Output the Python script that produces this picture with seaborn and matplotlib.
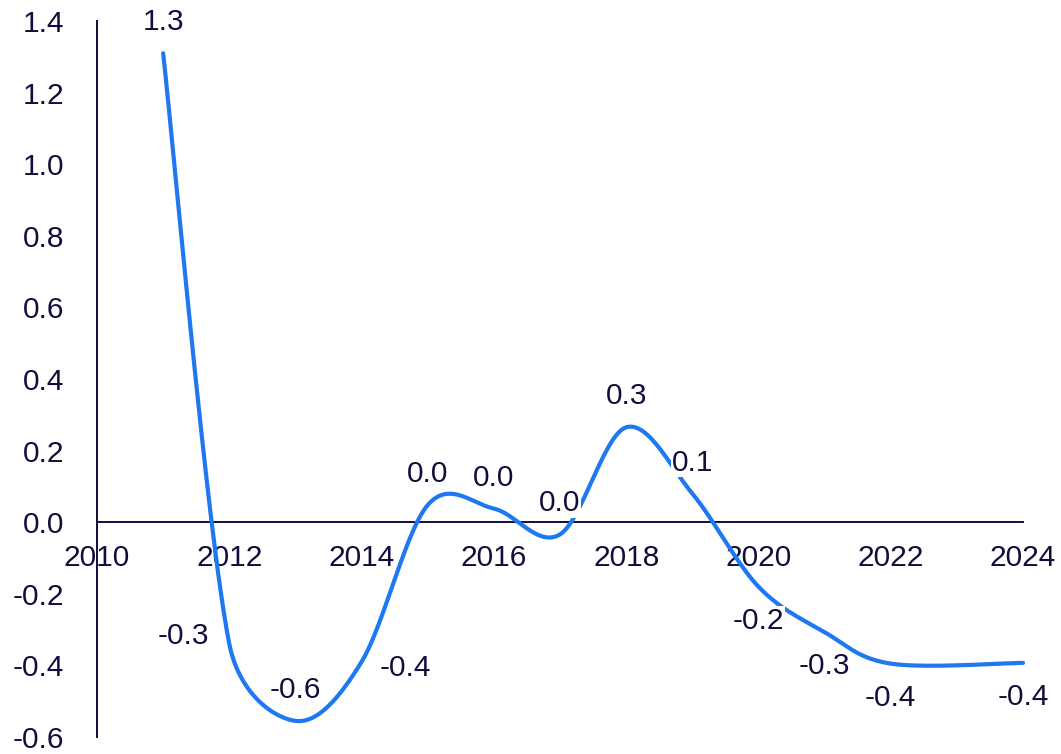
import numpy as np
import pandas as pd
import matplotlib
matplotlib.use("Agg")
import matplotlib.pyplot as plt
import seaborn as sns

# data
years = [2011, 2012, 2013, 2014, 2015, 2016, 2017, 2018, 2019, 2020, 2021, 2022, 2024]
values = [1.31, -0.34, -0.555, -0.39, 0.048, 0.038, -0.034, 0.265, 0.08, -0.18, -0.307, -0.395, -0.393]
label_side = ["above", "left", "above", "right", "above", "above", "above",
              "above", "above", "below", "below", "below", "below"]

y_ticks = [-0.6, -0.4, -0.2, 0.0, 0.2, 0.4, 0.6, 0.8, 1.0, 1.2, 1.4]
x_ticks = [2010, 2012, 2014, 2016, 2018, 2020, 2022, 2024]

LINE = "#1E78F0"
INK = "#110D3C"

W, H = 1061, 754
AX_PX = (97, 21, 926, 716)  # left, top, width, height in pixels
X_RANGE = (2010, 2024)
Y_RANGE = (-0.6, 1.4)


def smooth_line(xs, ys, n=50):
    # Excel-like smoothed line: catmull-rom bezier, control arms clamped
    # to half the segment length (worked out in pixel space)
    sx = AX_PX[2] / (X_RANGE[1] - X_RANGE[0])
    sy = AX_PX[3] / (Y_RANGE[1] - Y_RANGE[0])
    p = np.column_stack([np.asarray(xs, float) * sx, np.asarray(ys, float) * sy])
    t = np.linspace(0, 1, n, endpoint=False)[:, None]

    def arm(v, seg):
        v = v / 6
        L = np.linalg.norm(v)
        lim = 0.5 * seg
        return v * (lim / L) if L > lim else v

    out = []
    for i in range(len(p) - 1):
        p1, p2 = p[i], p[i + 1]
        p0 = p[i - 1] if i > 0 else p1
        p3 = p[i + 2] if i + 2 < len(p) else p2
        d12 = np.linalg.norm(p2 - p1)
        c1 = p1 + arm(p2 - p0, d12)
        c2 = p2 - arm(p3 - p1, d12)
        out.append((1 - t) ** 3 * p1 + 3 * (1 - t) ** 2 * t * c1
                   + 3 * (1 - t) * t ** 2 * c2 + t ** 3 * p2)
    out.append(p[-1][None, :])
    out = np.vstack(out)
    return out[:, 0] / sx, out[:, 1] / sy


sns.set_style("white")
plt.rcParams["font.family"] = ["Liberation Sans", "DejaVu Sans"]

fig = plt.figure(figsize=(W / 100, H / 100), dpi=100)
ax = fig.add_axes([AX_PX[0] / W, 1 - (AX_PX[1] + AX_PX[3]) / H, AX_PX[2] / W, AX_PX[3] / H])

cx, cy = smooth_line(years, values)
curve = pd.DataFrame({"x": cx, "y": cy})
sns.lineplot(data=curve, x="x", y="y", sort=False, estimator=None,
             color=LINE, linewidth=3, ax=ax, zorder=3)

offsets = {"above": (0, 31), "below": (0, -34), "left": (-46, 8), "right": (44, -6)}
for yr, v, side in zip(years, values, label_side):
    dx, dy = offsets[side]
    ax.annotate(f"{v:.1f}".replace("-0.0", "0.0"), (yr, v), xytext=(dx, dy),
                textcoords="offset pixels", ha="center", va="center", fontsize=21.5,
                color=INK, zorder=5,
                bbox=dict(boxstyle="square,pad=0.02", fc="white", ec="none"))

ax.set_xlim(*X_RANGE)
ax.set_ylim(*Y_RANGE)
ax.set_xticks(x_ticks)
ax.set_yticks(y_ticks)
ax.set_yticklabels([f"{t:.1f}" for t in y_ticks])
ax.set_xlabel("")
ax.set_ylabel("")

for s in ["top", "right"]:
    ax.spines[s].set_visible(False)
ax.spines["bottom"].set_position(("data", 0))
for s in ["left", "bottom"]:
    ax.spines[s].set_color(INK)
    ax.spines[s].set_linewidth(1.4)
    ax.spines[s].set_zorder(2)

ax.tick_params(axis="both", direction="out", length=7.5, width=1.4, color=INK,
               labelcolor=INK, labelsize=21.5)
ax.tick_params(axis="x", pad=8)
ax.tick_params(axis="y", pad=16)
for line in ax.get_lines():
    line.set_clip_on(False)

fig.savefig("out.png", dpi=100)
